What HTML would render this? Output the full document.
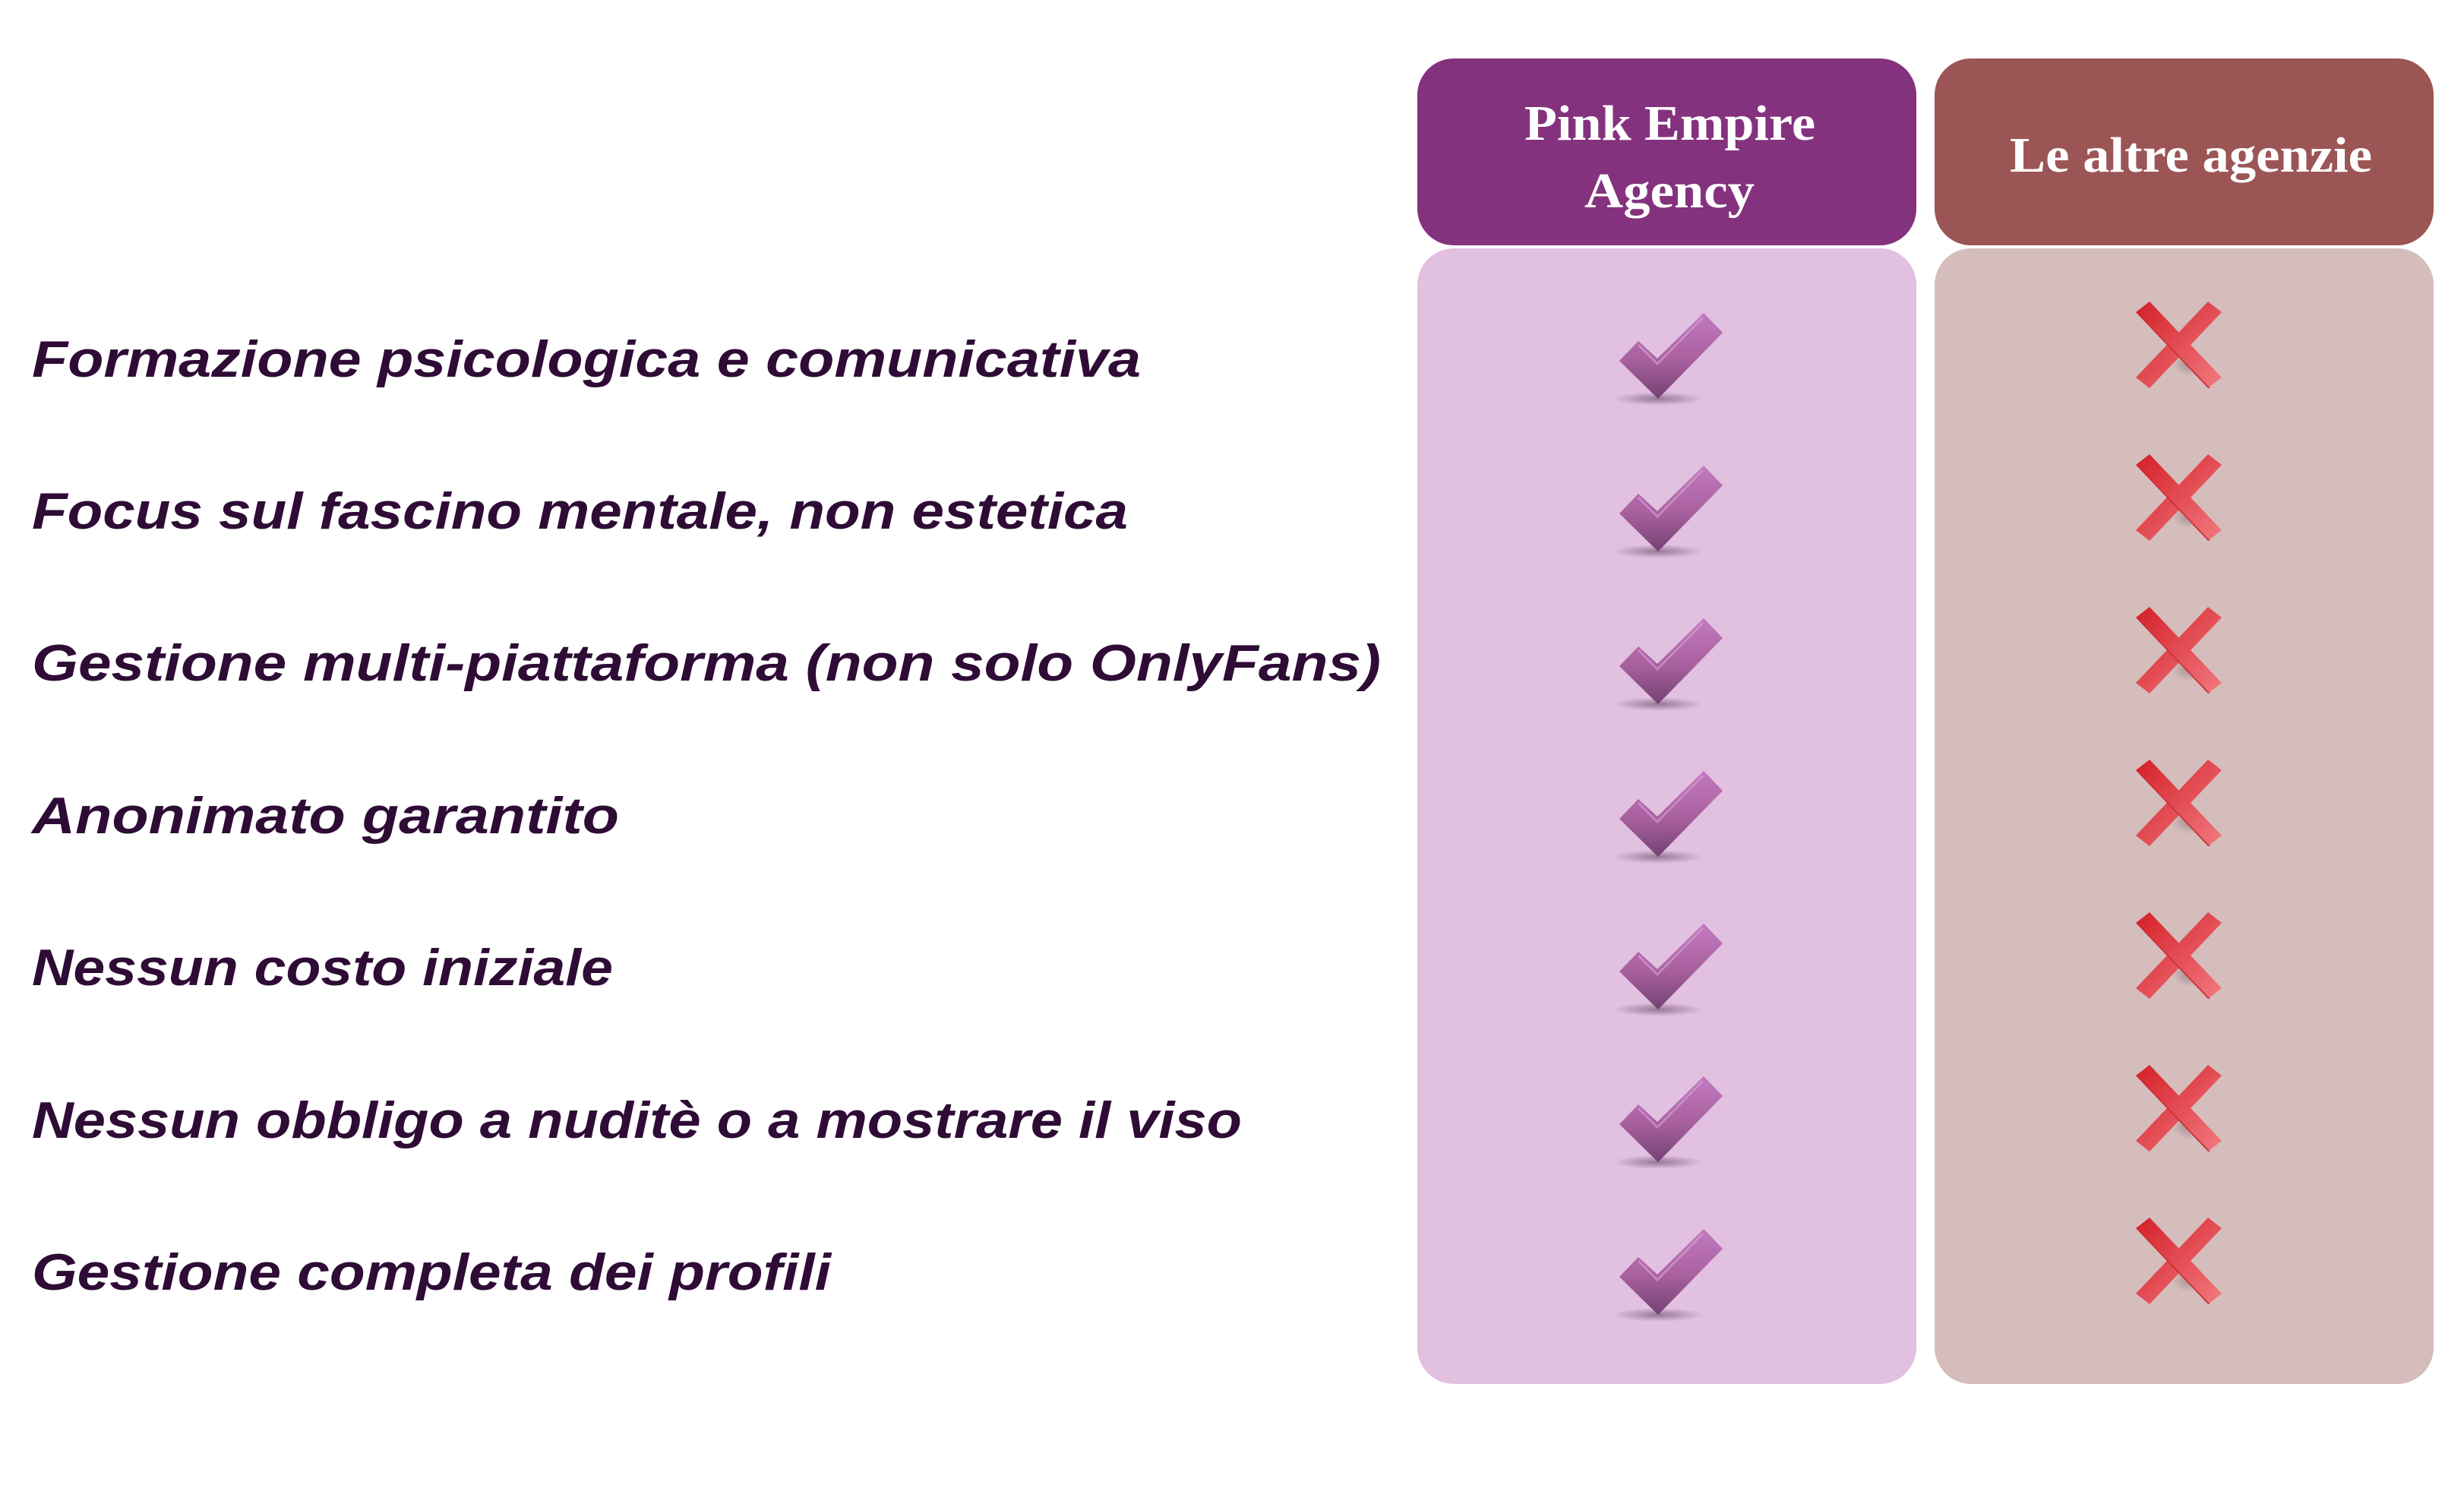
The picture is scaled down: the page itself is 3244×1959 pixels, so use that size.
<!DOCTYPE html>
<html><head><meta charset="utf-8"><style>
html,body{margin:0;padding:0;background:#fff;}
svg{display:block;}
</style></head><body>
<svg width="3244" height="1959" viewBox="0 0 3244 1959" xmlns="http://www.w3.org/2000/svg">
<defs>
<linearGradient id="ck" x1="0" y1="0" x2="0" y2="1">
<stop offset="0" stop-color="#c17abf"/><stop offset="0.55" stop-color="#a8609f"/><stop offset="1" stop-color="#734273"/>
</linearGradient>
<linearGradient id="cx" x1="0" y1="0" x2="1" y2="1">
<stop offset="0" stop-color="#d41f28"/><stop offset="1" stop-color="#f27a80"/>
</linearGradient>
<radialGradient id="sh"><stop offset="0" stop-color="#5a3a5a" stop-opacity="0.55"/><stop offset="1" stop-color="#5a3a5a" stop-opacity="0"/></radialGradient>
<radialGradient id="sh2"><stop offset="0" stop-color="#6a5a5a" stop-opacity="0.45"/><stop offset="1" stop-color="#6a5a5a" stop-opacity="0"/></radialGradient>
<g id="check">
<ellipse cx="51" cy="113" rx="60" ry="9" fill="url(#sh)"/>
<polygon points="0,63 25,37 50,60 111,0 136,26 51,113" fill="url(#ck)"/>
<polyline points="25,42 50,67 110,6" fill="none" stroke="#d9a0d6" stroke-width="3" opacity="0.6"/>
</g>
<g id="cross">
<ellipse cx="70" cy="82" rx="22" ry="16" fill="url(#sh2)"/>
<polygon points="0,14 18,0 113,100 95,114" fill="url(#cx)"/>
<polygon points="95,0 113,14 18,114 0,100" fill="url(#cx)"/>
<polygon points="0,14 5,18 98,114 95,114" fill="#b01820" opacity="0.6"/>
</g>
</defs>
<rect x="1866" y="77" width="657" height="246" rx="48" fill="#84327e"/>
<rect x="2547" y="77" width="657" height="246" rx="48" fill="#9c5555"/>
<rect x="1866" y="327" width="657" height="1495" rx="48" fill="#e2c0e0"/>
<rect x="2547" y="327" width="657" height="1495" rx="48" fill="#d5bdbc"/>
<g font-family="Liberation Serif, serif" font-weight="bold" font-size="66" fill="#fff">
<text x="2007" y="184" textLength="383" lengthAdjust="spacingAndGlyphs">Pink Empire</text>
<text x="2086" y="273" textLength="224" lengthAdjust="spacingAndGlyphs">Agency</text>
<text x="2646" y="226" textLength="477" lengthAdjust="spacingAndGlyphs">Le altre agenzie</text>
</g>
<g font-family="Liberation Sans, sans-serif" font-weight="bold" font-style="italic" font-size="68" fill="#2e0c35">
<text x="42" y="496" textLength="1460" lengthAdjust="spacingAndGlyphs">Formazione psicologica e comunicativa</text>
<text x="42" y="696" textLength="1443" lengthAdjust="spacingAndGlyphs">Focus sul fascino mentale, non estetica</text>
<text x="42" y="896" textLength="1776" lengthAdjust="spacingAndGlyphs">Gestione multi-piattaforma (non solo OnlyFans)</text>
<text x="42" y="1097" textLength="773" lengthAdjust="spacingAndGlyphs">Anonimato garantito</text>
<text x="42" y="1297" textLength="765" lengthAdjust="spacingAndGlyphs">Nessun costo iniziale</text>
<text x="42" y="1498" textLength="1593" lengthAdjust="spacingAndGlyphs">Nessun obbligo a nuditè o a mostrare il viso</text>
<text x="42" y="1698" textLength="1052" lengthAdjust="spacingAndGlyphs">Gestione completa dei profili</text>
</g>
<use href="#check" x="2132" y="412"/>
<use href="#check" x="2132" y="613"/>
<use href="#check" x="2132" y="814"/>
<use href="#check" x="2132" y="1015"/>
<use href="#check" x="2132" y="1216"/>
<use href="#check" x="2132" y="1417"/>
<use href="#check" x="2132" y="1618"/>
<use href="#cross" x="2812" y="397"/>
<use href="#cross" x="2812" y="598"/>
<use href="#cross" x="2812" y="799"/>
<use href="#cross" x="2812" y="1000"/>
<use href="#cross" x="2812" y="1201"/>
<use href="#cross" x="2812" y="1402"/>
<use href="#cross" x="2812" y="1603"/>
</svg>
</body></html>
